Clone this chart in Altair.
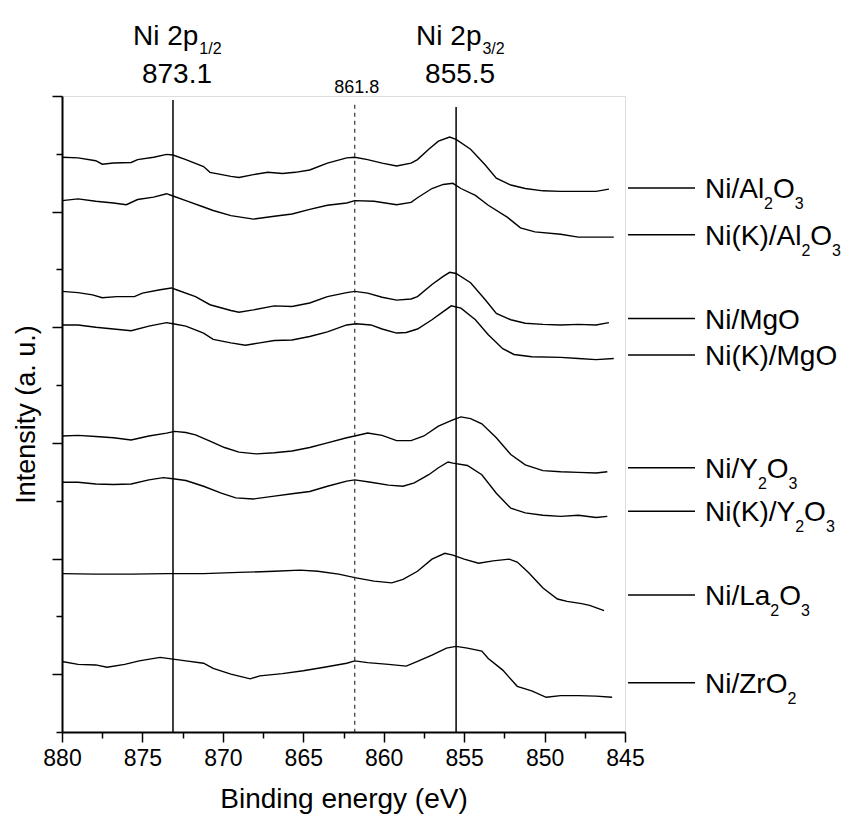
import altair as alt
import pandas as pd

FONT = "Liberation Sans, Arial, sans-serif"

# ---------------- spectra (binding energy, intensity in axis units) ----------------
sample_names = ["Ni/Al2O3", "Ni(K)/Al2O3", "Ni/MgO", "Ni(K)/MgO",
                "Ni/Y2O3", "Ni(K)/Y2O3", "Ni/La2O3", "Ni/ZrO2"]

al_E = [880.0, 879.0, 877.9, 877.5, 876.8, 875.7, 875.3, 874.3, 873.5, 873.1, 872.3, 871.2, 870.8, 869.5,
        869.0, 868.1, 867.2, 866.3, 865.5, 864.6, 863.5, 862.3, 861.8, 861.0, 860.1, 859.2, 858.3, 857.9,
        857.2, 856.6, 855.9, 855.5, 854.6, 853.7, 853.0, 852.1, 851.2, 850.1, 849.0, 847.9, 846.8, 846.0]
al_I = [9.94, 9.93, 9.88, 9.82, 9.84, 9.85, 9.90, 9.94, 9.99, 9.98, 9.90, 9.78, 9.68, 9.61,
        9.59, 9.64, 9.68, 9.66, 9.68, 9.72, 9.84, 9.93, 9.94, 9.90, 9.84, 9.79, 9.84, 9.90,
        10.08, 10.22, 10.29, 10.25, 10.08, 9.81, 9.58, 9.46, 9.40, 9.36, 9.35, 9.35, 9.35, 9.39]

kal_E = [880.0, 879.0, 877.9, 876.8, 876.0, 875.3, 874.3, 873.5, 873.1, 872.3, 871.2, 870.6, 869.5, 868.1,
         866.8, 865.7, 864.6, 863.5, 862.3, 861.8, 860.6, 859.2, 858.3, 857.9, 857.0, 856.3, 855.7, 855.2,
         854.3, 853.5, 852.3, 851.5, 850.6, 849.0, 847.9, 846.8, 845.7]
kal_I = [9.19, 9.22, 9.18, 9.15, 9.12, 9.21, 9.25, 9.31, 9.27, 9.19, 9.08, 9.02, 8.93, 8.87,
         8.92, 8.96, 9.04, 9.11, 9.15, 9.19, 9.18, 9.12, 9.16, 9.24, 9.40, 9.47, 9.49, 9.40,
         9.28, 9.11, 8.90, 8.72, 8.65, 8.61, 8.56, 8.56, 8.56]

mg_E = [880.0, 879.0, 878.1, 877.5, 876.6, 875.5, 875.0, 873.9, 873.2, 872.8, 871.7, 870.8, 869.5, 869.0,
        868.1, 866.8, 865.7, 864.6, 863.5, 862.3, 861.8, 861.0, 860.1, 859.2, 858.3, 857.9, 857.0, 856.3,
        855.9, 855.5, 854.6, 853.7, 853.0, 852.1, 851.2, 850.1, 849.0, 847.9, 846.8, 846.0]
mg_I = [7.62, 7.60, 7.56, 7.51, 7.53, 7.53, 7.59, 7.65, 7.68, 7.64, 7.53, 7.39, 7.29, 7.26,
        7.30, 7.37, 7.36, 7.42, 7.53, 7.60, 7.62, 7.59, 7.52, 7.47, 7.49, 7.53, 7.74, 7.88,
        7.95, 7.93, 7.77, 7.48, 7.24, 7.13, 7.07, 7.05, 7.04, 7.05, 7.04, 7.08]

kmg_E = [880.0, 879.0, 877.9, 876.8, 875.7, 874.6, 873.5, 873.1, 872.3, 871.2, 870.6, 869.5, 868.6, 867.7,
         866.8, 865.7, 864.6, 863.5, 862.3, 861.7, 860.8, 860.1, 859.2, 858.6, 857.9, 857.0, 856.3, 855.8,
         855.2, 854.3, 853.5, 852.6, 851.9, 850.8, 849.0, 847.9, 846.8, 845.7]
kmg_I = [7.04, 7.04, 7.00, 6.97, 6.94, 7.02, 7.08, 7.06, 7.02, 6.90, 6.79, 6.73, 6.69, 6.73,
         6.77, 6.78, 6.84, 6.92, 7.04, 7.06, 7.04, 6.97, 6.90, 6.91, 6.97, 7.13, 7.27, 7.37,
         7.33, 7.13, 6.87, 6.63, 6.53, 6.49, 6.48, 6.46, 6.44, 6.46]

y_E = [880.0, 879.0, 877.9, 876.8, 875.7, 874.6, 873.5, 873.0, 872.3, 871.7, 870.8, 869.9, 869.0, 867.9,
       866.8, 865.7, 864.6, 863.5, 862.3, 861.8, 861.0, 860.1, 859.2, 858.3, 857.5, 856.6, 855.7, 855.2,
       854.6, 853.9, 853.0, 852.1, 851.2, 850.1, 849.0, 847.9, 846.8, 846.1]
y_I = [5.12, 5.13, 5.11, 5.09, 5.05, 5.12, 5.17, 5.20, 5.18, 5.14, 5.03, 4.92, 4.84, 4.81,
       4.83, 4.86, 4.92, 5.00, 5.09, 5.12, 5.17, 5.13, 5.04, 5.04, 5.12, 5.29, 5.40, 5.45,
       5.42, 5.33, 5.09, 4.80, 4.62, 4.52, 4.50, 4.49, 4.48, 4.50]

ky_E = [880.0, 879.0, 877.9, 876.8, 875.7, 874.6, 873.7, 873.1, 872.3, 871.2, 870.1, 869.2, 868.1, 866.8,
        865.7, 864.6, 863.5, 862.3, 861.8, 860.8, 859.7, 858.8, 858.1, 857.2, 856.6, 856.0, 855.7, 854.8,
        853.9, 853.0, 852.1, 851.2, 850.1, 849.0, 847.9, 846.8, 846.1]
ky_I = [4.32, 4.32, 4.29, 4.28, 4.29, 4.36, 4.40, 4.38, 4.35, 4.25, 4.13, 4.05, 4.03, 4.08,
        4.12, 4.16, 4.25, 4.34, 4.36, 4.32, 4.27, 4.25, 4.31, 4.45, 4.57, 4.67, 4.65, 4.61,
        4.45, 4.13, 3.87, 3.79, 3.75, 3.73, 3.75, 3.71, 3.73]

la_E = [880.0, 877.9, 875.7, 873.5, 871.2, 869.0, 866.8, 865.2, 864.1, 862.8, 861.8, 860.6, 859.5, 858.8,
        857.9, 857.0, 856.2, 855.7, 855.0, 854.1, 853.2, 852.2, 851.7, 851.0, 850.1, 849.2, 848.6, 847.7,
        847.2, 846.3]
la_I = [2.74, 2.73, 2.73, 2.74, 2.74, 2.76, 2.78, 2.80, 2.78, 2.73, 2.67, 2.61, 2.58, 2.64,
        2.78, 2.99, 3.09, 3.06, 2.99, 2.92, 2.96, 2.99, 2.94, 2.76, 2.49, 2.30, 2.26, 2.22,
        2.19, 2.10]

zr_E = [880.0, 879.0, 877.9, 877.2, 876.1, 875.2, 873.9, 873.1, 872.3, 871.2, 870.6, 869.5, 868.3, 867.7,
        866.3, 865.0, 863.7, 862.3, 861.8, 861.0, 859.7, 858.6, 857.9, 857.0, 856.1, 855.5, 854.8, 853.9,
        853.5, 852.6, 851.7, 850.8, 849.9, 849.0, 847.9, 846.8, 845.8]
zr_I = [1.22, 1.17, 1.16, 1.12, 1.17, 1.23, 1.29, 1.26, 1.23, 1.19, 1.10, 1.00, 0.92, 0.97,
        1.01, 1.06, 1.12, 1.19, 1.23, 1.20, 1.17, 1.14, 1.22, 1.33, 1.45, 1.48, 1.45, 1.40,
        1.27, 1.07, 0.79, 0.71, 0.60, 0.63, 0.63, 0.62, 0.60]

series = [(al_E, al_I), (kal_E, kal_I), (mg_E, mg_I), (kmg_E, kmg_I),
          (y_E, y_I), (ky_E, ky_I), (la_E, la_I), (zr_E, zr_I)]

# ---------------- reference lines and annotations ----------------
peak_E = [873.1, 855.5]
peak_sub = ["1/2", "3/2"]
peak_top = [10.93, 10.81]
sat_E = [861.8]
sat_top = [10.85]

# right-hand labels: level (axis units) and text pieces (text, is_subscript)
label_level = [9.41, 8.60, 7.15, 6.52, 4.57, 3.82, 2.37, 0.85]
label_parts = [
    [("Ni/Al", 0), ("2", 1), ("O", 0), ("3", 1)],
    [("Ni(K)/Al", 0), ("2", 1), ("O", 0), ("3", 1)],
    [("Ni/MgO", 0)],
    [("Ni(K)/MgO", 0)],
    [("Ni/Y", 0), ("2", 1), ("O", 0), ("3", 1)],
    [("Ni(K)/Y", 0), ("2", 1), ("O", 0), ("3", 1)],
    [("Ni/La", 0), ("2", 1), ("O", 0), ("3", 1)],
    [("Ni/ZrO", 0), ("2", 1)],
]

x_ticks = [880 - 2.5 * k for k in range(15)]
y_ticks = list(range(0, 12))

# ---------------- layout ----------------
W_PLOT, H_PLOT = 563, 636
MAIN_FS, SUB_FS = 28, 16
TOP_FS, TOP_SUB_FS = 28, 16

ADV = {'N': 722, 'i': 222, '/': 278, 'A': 667, 'l': 222, 'O': 778, '(': 333, 'K': 667, ')': 333,
       'M': 833, 'g': 556, 'Y': 667, 'L': 556, 'a': 556, 'Z': 611, 'r': 333, '2': 556, '3': 556,
       '1': 556, 'p': 556, ' ': 278, '.': 278}


def text_width(s, size):
    return sum(ADV.get(c, 556) for c in s) / 1000.0 * size


rows = []
for name, (es, vs) in zip(sample_names, series):
    for e, v in zip(es, vs):
        rows.append({"sample": name, "E": e, "I": v})
spec_df = pd.DataFrame(rows)

x_scale = alt.Scale(domain=[845, 880], reverse=True, nice=False, zero=False)
y_scale = alt.Scale(domain=[0, 11], nice=False, zero=False)

x_axis = alt.Axis(
    title="Binding energy (eV)", values=x_ticks, grid=False,
    labelExpr="datum.value % 5 == 0 ? datum.label : ''",
    labelFlush=False, labelOverlap=False, labelFontSize=23, labelPadding=5,
    labelColor="black", labelFont=FONT,
    tickSize={"condition": {"test": "datum.value % 5 == 0", "value": 10}, "value": 6},
    tickWidth=1.5, tickColor="black", domainColor="black", domainWidth=2,
    titleFontSize=28, titleFontWeight="normal", titleFont=FONT, titleColor="black",
    titlePadding=15,
)
y_axis = alt.Axis(
    title="Intensity (a. u.)", values=y_ticks, grid=False, labels=False,
    tickSize={"condition": {"test": "datum.value % 2 == 1", "value": 10}, "value": 6},
    tickWidth=1.5, tickColor="black", domainColor="black", domainWidth=2,
    titleFontSize=27, titleFontWeight="normal", titleFont=FONT, titleColor="black",
    titleX=-22,
)

spectra = alt.Chart(spec_df).mark_line(color="black", strokeWidth=1.4).encode(
    x=alt.X("E:Q", scale=x_scale, axis=x_axis),
    y=alt.Y("I:Q", scale=y_scale, axis=y_axis),
    detail="sample:N",
)

peaks_df = pd.DataFrame({"E": peak_E, "I": peak_top, "I2": [0] * len(peak_E), "sub": peak_sub})
sat_df = pd.DataFrame({"E": sat_E, "I": sat_top, "I2": [0] * len(sat_E)})

peak_rules = alt.Chart(peaks_df).mark_rule(color="black", strokeWidth=1.5).encode(
    x="E:Q", y="I:Q", y2="I2:Q")
sat_rule = alt.Chart(sat_df).mark_rule(color="#222222", strokeWidth=1.1, strokeDash=[4, 4]).encode(
    x="E:Q", y="I:Q", y2="I2:Q")

NI_DX = -40
NI_Y = -51
ni_text = alt.Chart(peaks_df).mark_text(
    text="Ni 2p", align="left", baseline="alphabetic", fontSize=TOP_FS, font=FONT,
    color="black", dx=NI_DX).encode(x="E:Q", y=alt.value(NI_Y))
ni_sub = alt.Chart(peaks_df).mark_text(
    align="left", baseline="alphabetic", fontSize=TOP_SUB_FS, font=FONT, color="black",
    dx=NI_DX + text_width("Ni 2p", TOP_FS) + 1, dy=9).encode(
    x="E:Q", y=alt.value(NI_Y), text="sub:N")
peak_num = alt.Chart(peaks_df).mark_text(
    align="center", baseline="alphabetic", fontSize=TOP_FS, font=FONT, color="black",
    dx=4).encode(x="E:Q", y=alt.value(-13), text=alt.Text("E:Q", format=".1f"))
sat_num = alt.Chart(sat_df).mark_text(
    align="center", baseline="alphabetic", fontSize=18, font=FONT, color="black",
    dx=2).encode(x="E:Q", y=alt.value(-3), text=alt.Text("E:Q", format=".1f"))

lab_df = pd.DataFrame({"I": label_level})
lab_lines = alt.Chart(lab_df).mark_rule(color="black", strokeWidth=1.5).encode(
    x=alt.value(566), x2=alt.value(633), y="I:Q")

label_layers = []
for lv, parts in zip(label_level, label_parts):
    off = 0.0
    for txt, is_sub in parts:
        fs = SUB_FS if is_sub else MAIN_FS
        label_layers.append(
            alt.Chart(pd.DataFrame({"I": [lv]})).mark_text(
                text=txt, align="left", baseline="alphabetic", fontSize=fs, font=FONT,
                color="black", dy=21 if is_sub else 10).encode(
                x=alt.value(643 + off), y="I:Q"))
        off += text_width(txt, fs)

chart = alt.layer(
    spectra, peak_rules, sat_rule, ni_text, ni_sub, peak_num, sat_num, lab_lines, *label_layers
).properties(
    width=W_PLOT, height=H_PLOT,
    autosize=alt.AutoSizeParams(type="none"),
    padding={"left": 54, "top": 88, "right": 218, "bottom": 85},
).configure_view(stroke=None).configure(background="white")

chart.save("out.html", embed_options={"renderer": "svg", "actions": False})
